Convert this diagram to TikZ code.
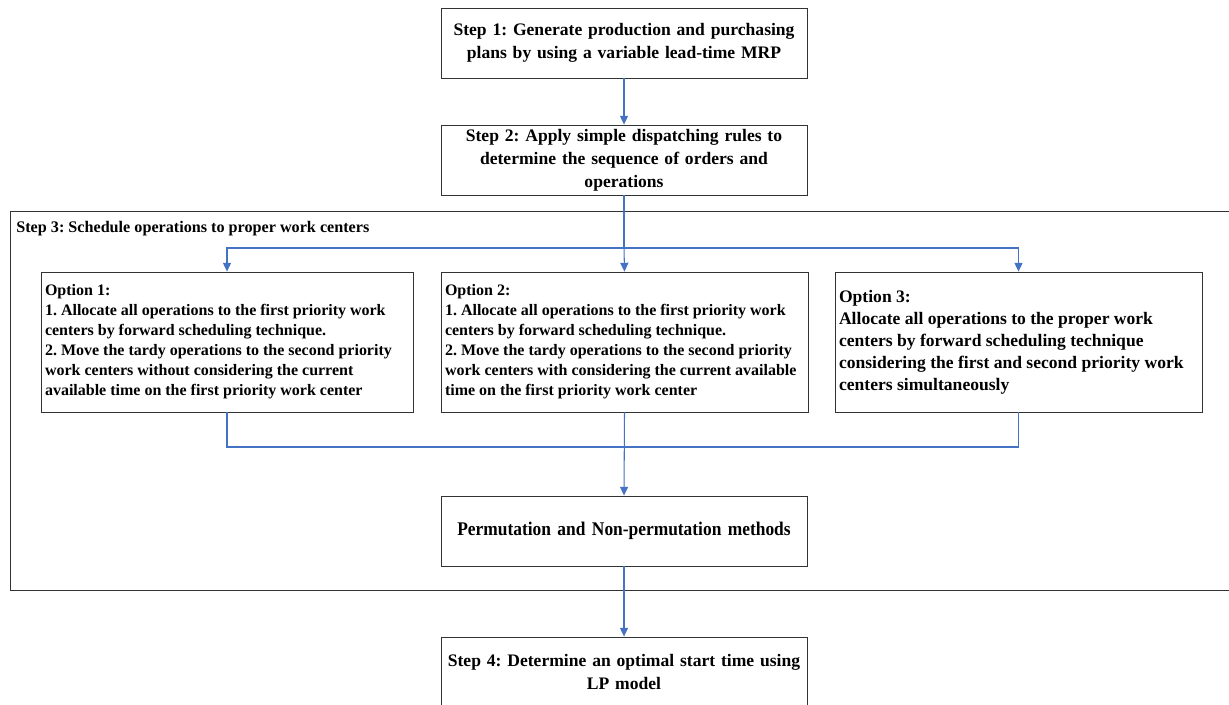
\documentclass[tikz,border=0pt]{standalone}
\usepackage{fontspec}
\setmainfont{Liberation Serif}
\newfontfamily\condfont[FakeStretch=0.9]{Liberation Serif}
\usetikzlibrary{arrows.meta}
\definecolor{linkblue}{RGB}{68,114,196}
\newcommand\nohyph{\frenchspacing\hyphenpenalty=10000\relax}
\tikzset{
  stepbox/.style={draw=black!80, line width=0.5pt, minimum width=7.32cm, minimum height=1.4cm,
    text width=7.3cm, align=center, inner sep=0pt,
    font=\bfseries\fontsize{10}{13.2}\selectfont\nohyph},
  optbox/.style={draw=black!80, line width=0.5pt, minimum height=2.8cm, inner xsep=0.08cm,
    align=flush left, font=\bfseries\fontsize{9.1}{11.4}\selectfont\nohyph},
  link/.style={linkblue, line width=0.6pt},
  arr/.style={link, -{Triangle[width=4.6pt,length=5pt]}}
}
\begin{document}
\begin{tikzpicture}[x=0.02cm, y=-0.02cm]
    \useasboundingbox (0,0) rectangle (1229,704);
    \node[stepbox] (s1) at (624,43) {Step 1: Generate production and purchasing\\ plans by using a variable lead-time MRP};
    \node[stepbox] (s2) at (624,160) {Step 2: Apply simple dispatching rules to\\ determine the sequence of orders and\\ operations};
    % frame of step 3
    \draw[black!80, line width=0.5pt] (1235,211) -- (10,211) -- (10,590) -- (1235,590);
    \node[anchor=west, inner sep=0pt, font=\bfseries\fontsize{9.2}{11.3}\selectfont\nohyph] (s3) at (16,229) {Step 3: Schedule operations to proper work centers};
    \node[optbox, minimum width=7.44cm, text width=7.28cm] (o1) at (227,342) {Option 1:\\ 1. Allocate all operations to the first priority work\\ centers by forward scheduling technique.\\ 2. Move the tardy operations to the second priority\\ work centers without considering the current\\ available time on the first priority work center};
    \node[optbox, minimum width=7.34cm, text width=7.18cm] (o2) at (624.5,342) {Option 2:\\ 1. Allocate all operations to the first priority work\\ centers by forward scheduling technique.\\ 2. Move the tardy operations to the second priority\\ work centers with considering the current available\\ time on the first priority work center};
    \node[optbox, minimum width=7.34cm, text width=7.18cm, font=\bfseries\fontsize{10}{12.5}\selectfont\nohyph] (o3) at (1018.5,342) {Option 3:\\ Allocate all operations to the proper work\\ centers by forward scheduling technique\\ considering the first and second priority work\\ centers simultaneously\\[4pt]};
    \node[stepbox, font=\condfont\bfseries\fontsize{11}{13}\selectfont] (perm) at (624,531) {Permutation and Non-permutation methods};
    \node[stepbox] (s4) at (624,672) {Step 4: Determine an optimal start time using\\ LP model};
    \coordinate (split) at (624,248);
    \coordinate (join) at (624,447);
    % connectors
    \draw[arr] (s1) -- (s2);
    \draw[link] (s2.south) -- (split);
    \draw[arr] (split) -| (o1.north);
    \draw[arr] (split) -- (o2.north);
    \draw[arr] (split) -| (o3.north);
    \draw[link] (o1.south) |- (join);
    \draw[link] (o3.south) |- (join);
    \draw[arr] (o2.south) -- (perm.north);
    \draw[arr] (perm) -- (s4);
\end{tikzpicture}
\end{document}
